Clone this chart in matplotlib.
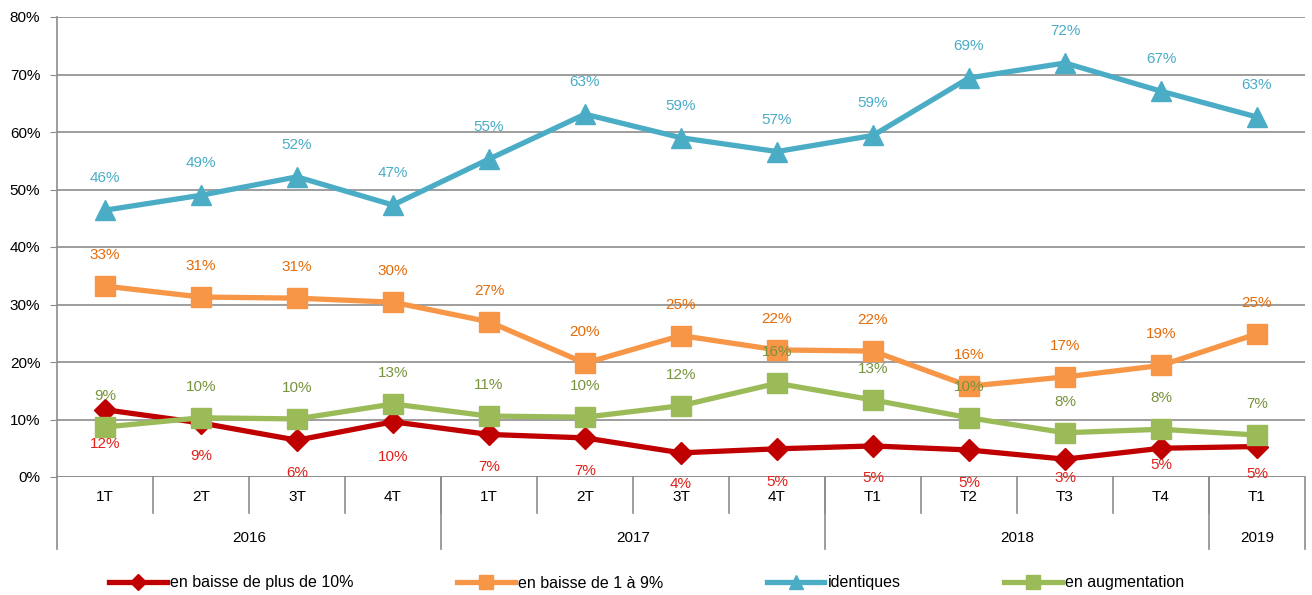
import matplotlib
matplotlib.use("Agg")
import matplotlib.pyplot as plt
from matplotlib.transforms import blended_transform_factory
from matplotlib.lines import Line2D

plt.rcParams['font.family'] = ['Liberation Sans Narrow', 'Liberation Sans', 'DejaVu Sans']

quarters = ["1T", "2T", "3T", "4T", "1T", "2T", "3T", "4T", "T1", "T2", "T3", "T4", "T1"]
years = ["2016", "2017", "2018", "2019"]
year_sizes = [4, 4, 4, 1]

baisse_plus_10 = [11.7, 9.4, 6.4, 9.6, 7.4, 6.8, 4.2, 4.9, 5.4, 4.7, 3.1, 5.0, 5.3]
baisse_1_9 = [33.2, 31.3, 31.1, 30.4, 27.0, 19.8, 24.6, 22.1, 21.9, 15.8, 17.4, 19.4, 24.9]
identiques = [46.4, 49.0, 52.2, 47.3, 55.3, 63.1, 59.0, 56.6, 59.4, 69.4, 72.0, 67.1, 62.6]
augmentation = [8.7, 10.3, 10.1, 12.7, 10.6, 10.4, 12.4, 16.3, 13.4, 10.3, 7.7, 8.3, 7.3]

# label offsets in pixels (style only)
red_label_offsets = [-34, -33, -33, -35, -33, -33, -31, -33, -32, -33, -19, -17, -27]

series = [
    ("en baisse de plus de 10%", baisse_plus_10, "#C00000", "#E0201A", "D", 11, red_label_offsets),
    ("en baisse de 1 à 9%", baisse_1_9, "#F79646", "#E46C0A", "s", 14, [31] * 13),
    ("identiques", identiques, "#4BACC6", "#4BACC6", "^", 14, [32] * 13),
    ("en augmentation", augmentation, "#9BBB59", "#77933C", "s", 14, [31] * 13),
]

W, H = 1312, 595
fig = plt.figure(figsize=(W / 100, H / 100), dpi=100)
ax = fig.add_axes([57 / W, 118 / H, (1305 - 57) / W, 460 / H])

x = list(range(len(quarters)))
handles = []
for name, vals, col, lcol, mk, ms, offs in series:
    ax.plot(x, vals, color=col, lw=3.8, marker=mk, markersize=ms, zorder=3,
            solid_joinstyle='miter')
    for xi, v, off in zip(x, vals, offs):
        ax.annotate(f"{round(v):.0f}%", (xi, v), xytext=(0, off), textcoords="offset pixels",
                    ha="center", va="center", color=lcol, fontsize=11, zorder=4,
                    annotation_clip=False)
    handles.append(Line2D([], [], color=col, lw=3.8, marker=mk, markersize=ms * 0.75))

ax.set_xlim(-0.5, len(quarters) - 0.5)
ax.set_ylim(0, 80)
ax.set_yticks(range(0, 81, 10))
ax.set_yticklabels([f"{t}%" for t in range(0, 81, 10)], fontsize=11)
ax.yaxis.grid(True, color="#8C8C8C", lw=1.2)
ax.set_axisbelow(True)
ax.tick_params(axis="y", length=5, color="#8C8C8C", pad=7)
ax.set_xticks([])
for s in ["top", "right", "bottom"]:
    ax.spines[s].set_visible(False)
ax.spines["left"].set_color("#8C8C8C")
ax.spines["left"].set_linewidth(1.2)
ax.axhline(0, color="#8C8C8C", lw=1.2, zorder=1)

tr = blended_transform_factory(ax.transData, ax.transAxes)
r1 = -36 / 460
r2 = -72 / 460
gc = "#8C8C8C"
# category row
for i, q in enumerate(quarters):
    ax.text(i, -20 / 460, q, transform=tr, ha="center", va="center", fontsize=11, color="#000000")
for b in range(1, len(quarters)):
    ax.plot([b - 0.5, b - 0.5], [0, r1], transform=tr, color=gc, lw=1.2, clip_on=False)
# year row
start = 0
bounds = [-0.5]
for yname, n in zip(years, year_sizes):
    center = start + (n - 1) / 2
    ax.text(center, -61 / 460, yname, transform=tr, ha="center", va="center", fontsize=11)
    start += n
    bounds.append(start - 0.5)
for bd in bounds:
    ax.plot([bd, bd], [0, r2], transform=tr, color=gc, lw=1.2, clip_on=False)

fig.legend(handles, [s[0] for s in series], loc="center left", bbox_to_anchor=(109 / W, 12 / H),
           ncol=4, frameon=False, fontsize=11.5, columnspacing=6.5, handlelength=3.6,
           handletextpad=0.2, borderpad=0, borderaxespad=0)

fig.savefig("out.png", dpi=100)
